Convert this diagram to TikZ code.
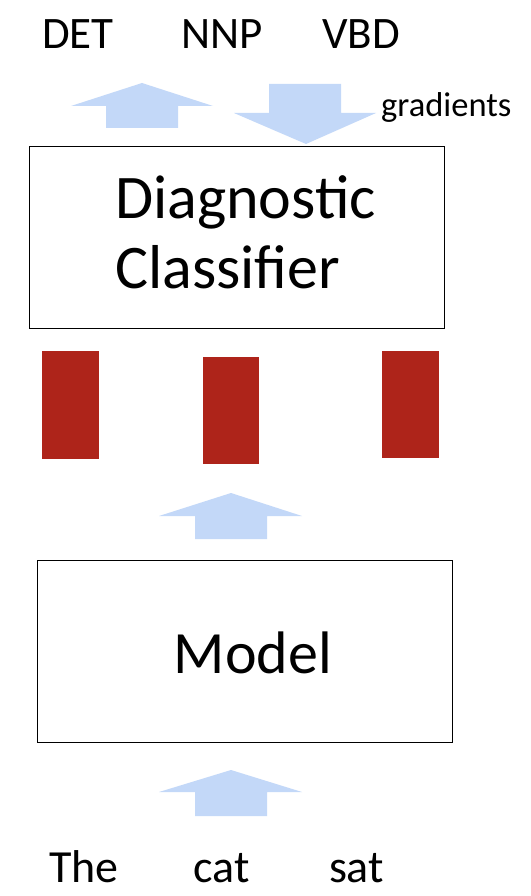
\documentclass[tikz,border=0pt]{standalone}
\usepackage{fontspec}
\setmainfont{Carlito}
\definecolor{arrowblue}{RGB}{195,216,248}
\definecolor{vecred}{RGB}{174,36,26}
\tikzset{
  lbl/.style={anchor=base,inner sep=0pt,font=\fontsize{45}{54}\selectfont},
  word/.style={anchor=base,inner sep=0pt,font=\fontsize{46}{55}\selectfont},
  bigtxt/.style={inner sep=0pt,font=\fontsize{62}{72}\selectfont},
  modeltxt/.style={inner sep=0pt,font=\fontsize{60}{70}\selectfont},
  gradtxt/.style={anchor=base west,inner sep=0pt,font=\fontsize{34.5}{40}\selectfont},
  boxstyle/.style={draw=black,line width=1pt},
  blockarrow/.style={fill=arrowblue,draw=none},
  vecbox/.style={fill=vecred,draw=none}
}
\begin{document}
\begin{tikzpicture}[x=1pt,y=-1pt]
\useasboundingbox[fill=white] (0,0) rectangle (530,896);
% top labels
\node[lbl] (det) at (78,49) {DET};
\node[lbl] (nnp) at (222,49) {NNP};
\node[lbl] (vbd) at (361,49) {VBD};
\node[gradtxt] (grad) at (381,117) {gradients};
% up arrow top-left
\fill[blockarrow] (142,83) -- (213,106) -- (178,106) -- (178,128) -- (106,128) -- (106,106) -- (71,106) -- cycle;
% down arrow (gradients)
\fill[blockarrow] (269,84) -- (341,84) -- (341,113) -- (376,113) -- (306,144) -- (234,113) -- (269,113) -- cycle;
% diagnostic classifier box
\draw[boxstyle] (29.5,146.5) rectangle (444,328);
\node[bigtxt,anchor=base west] (diag) at (115,218) {Diagnostic};
\node[bigtxt,anchor=base west] (clas) at (115,288) {Classifier};
% red vectors
\fill[vecbox] (42,351) rectangle (99,459);
\fill[vecbox] (203,357) rectangle (259,464);
\fill[vecbox] (382,351) rectangle (439,458);
% middle arrow
\fill[blockarrow] (231,493) -- (302,516) -- (267,516) -- (267,539) -- (195,539) -- (195,516) -- (159,516) -- cycle;
% model box
\draw[boxstyle] (37.5,560.5) rectangle (452.5,742);
\node[modeltxt,anchor=base] (model) at (253,673) {Model};
% bottom arrow
\fill[blockarrow] (231,770) -- (302,792) -- (267,792) -- (267,816) -- (195,816) -- (195,792) -- (159,792) -- cycle;
% words
\node[word] (the) at (84,882) {The};
\node[word] (cat) at (221.5,882) {cat};
\node[word] (sat) at (356.5,882) {sat};
\end{tikzpicture}
\end{document}
